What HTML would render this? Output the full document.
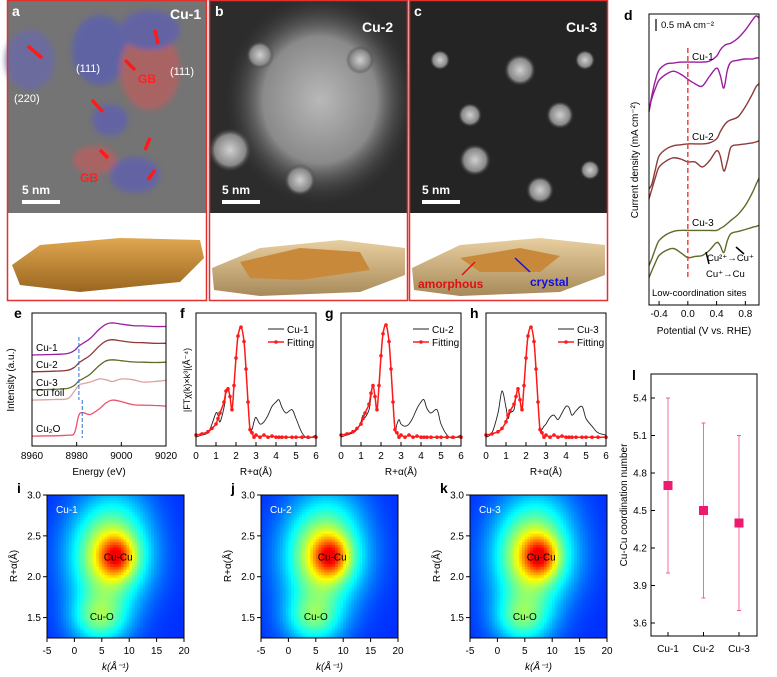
<!DOCTYPE html>
<html><head><meta charset="utf-8"><style>
html,body{margin:0;padding:0;background:#fff}
svg{display:block;font-family:"Liberation Sans",Arial,sans-serif}
</style></head><body>
<svg id="fig" width="777" height="677" viewBox="0 0 777 677" xmlns="http://www.w3.org/2000/svg">
<defs>
<radialGradient id="glowB" cx="50%" cy="50%" r="50%"><stop offset="0" stop-color="#b8b8b8"/><stop offset="0.6" stop-color="#8a8a8a"/><stop offset="1" stop-color="#3a3a3a" stop-opacity="0"/></radialGradient>
<radialGradient id="spot" cx="50%" cy="50%" r="50%"><stop offset="0" stop-color="#d0d0d0"/><stop offset="0.7" stop-color="#888"/><stop offset="1" stop-color="#333" stop-opacity="0"/></radialGradient>
<linearGradient id="slab" x1="0" y1="0" x2="0" y2="1"><stop offset="0" stop-color="#e0a650"/><stop offset="1" stop-color="#9a6620"/></linearGradient>
<linearGradient id="slab2" x1="0" y1="0" x2="0" y2="1"><stop offset="0" stop-color="#e8cfa0"/><stop offset="1" stop-color="#a88a5a"/></linearGradient>
<filter id="blur3"><feGaussianBlur stdDeviation="3"/></filter>
</defs>

<g>
<rect x="8" y="1" width="198" height="212" fill="#747474"/>
<g filter="url(#blur3)" opacity="0.8">
<ellipse cx="30" cy="60" rx="25" ry="30" fill="#6a6aa8"/><ellipse cx="100" cy="50" rx="28" ry="35" fill="#5a60b0"/>
<ellipse cx="150" cy="70" rx="30" ry="40" fill="#b86060"/><ellipse cx="110" cy="120" rx="18" ry="16" fill="#6060b0"/>
<ellipse cx="95" cy="160" rx="22" ry="14" fill="#b86060"/><ellipse cx="135" cy="175" rx="25" ry="18" fill="#6060b0"/>
<ellipse cx="150" cy="30" rx="30" ry="20" fill="#6060b0"/>
</g>
<g fill="#ff1a1a" stroke="#ff1a1a" stroke-width="3.5">
<line x1="42" y1="58" x2="28" y2="46"/><line x1="155" y1="30" x2="158" y2="44"/><line x1="125" y1="60" x2="135" y2="70"/>
<line x1="92" y1="100" x2="103" y2="112"/><line x1="100" y1="150" x2="108" y2="158"/><line x1="150" y1="138" x2="145" y2="150"/><line x1="155" y1="170" x2="148" y2="180"/>
</g>
<text x="12" y="16" fill="#fff" font-size="14" font-weight="bold">a</text>
<text x="170" y="19" fill="#fff" font-size="14" font-weight="bold">Cu-1</text>
<text x="76" y="72" fill="#fff" font-size="11">(111)</text><text x="170" y="75" fill="#fff" font-size="11">(111)</text>
<text x="14" y="102" fill="#fff" font-size="11">(220)</text>
<text x="138" y="83" fill="#ff2020" font-size="12" font-weight="bold">GB</text>
<text x="80" y="182" fill="#ff2020" font-size="12" font-weight="bold">GB</text>
<rect x="22" y="200" width="38" height="4" fill="#fff"/><text x="22" y="194" fill="#fff" font-size="12" font-weight="bold">5 nm</text>
<polygon points="12,265 40,245 120,238 200,240 204,258 180,282 80,292 20,285" fill="url(#slab)"/>
<rect x="7.5" y="0.5" width="199" height="300" fill="none" stroke="#e03030" stroke-width="1.5"/>
</g>
<g>
<rect x="210" y="1" width="197" height="212" fill="#2c2c2c"/>
<ellipse cx="320" cy="100" rx="95" ry="105" fill="url(#glowB)"/>
<circle cx="230" cy="150" r="22" fill="url(#spot)"/><circle cx="260" cy="55" r="14" fill="url(#spot)"/>
<circle cx="300" cy="180" r="16" fill="url(#spot)"/><circle cx="360" cy="60" r="14" fill="url(#spot)"/>
<text x="215" y="16" fill="#fff" font-size="14" font-weight="bold">b</text>
<text x="362" y="32" fill="#fff" font-size="14" font-weight="bold">Cu-2</text>
<rect x="222" y="200" width="38" height="4" fill="#fff"/><text x="222" y="194" fill="#fff" font-size="12" font-weight="bold">5 nm</text>
<polygon points="212,268 260,248 340,240 405,248 405,275 360,292 260,296 214,290" fill="url(#slab2)"/>
<polygon points="240,262 300,248 360,252 370,270 300,280 250,278" fill="#c88a3a"/>
<rect x="209.5" y="0.5" width="198" height="300" fill="none" stroke="#e03030" stroke-width="1.5"/>
</g>
<g>
<rect x="410" y="1" width="197" height="212" fill="#242424"/>
<circle cx="520" cy="70" r="16" fill="url(#spot)"/><circle cx="560" cy="115" r="14" fill="url(#spot)"/>
<circle cx="470" cy="115" r="12" fill="url(#spot)"/><circle cx="475" cy="160" r="16" fill="url(#spot)"/>
<circle cx="540" cy="190" r="14" fill="url(#spot)"/><circle cx="590" cy="170" r="10" fill="url(#spot)"/>
<circle cx="440" cy="60" r="10" fill="url(#spot)"/><circle cx="585" cy="60" r="10" fill="url(#spot)"/>
<text x="414" y="16" fill="#fff" font-size="14" font-weight="bold">c</text>
<text x="566" y="32" fill="#fff" font-size="14" font-weight="bold">Cu-3</text>
<rect x="422" y="200" width="38" height="4" fill="#fff"/><text x="422" y="194" fill="#fff" font-size="12" font-weight="bold">5 nm</text>
<polygon points="412,268 460,245 540,238 605,245 605,275 560,292 460,296 414,290" fill="url(#slab2)"/>
<polygon points="460,258 520,248 560,256 540,272 480,272" fill="#c88a3a"/>
<line x1="475" y1="262" x2="462" y2="275" stroke="#e01010" stroke-width="1.5"/>
<line x1="515" y1="258" x2="530" y2="272" stroke="#1010e0" stroke-width="1.5"/>
<text x="418" y="288" fill="#e01010" font-size="12" font-weight="bold">amorphous</text>
<text x="530" y="286" fill="#1010e0" font-size="12" font-weight="bold">crystal</text>
<rect x="409.5" y="0.5" width="198" height="300" fill="none" stroke="#e03030" stroke-width="1.5"/>
</g>
<g id="plots"></g>
</svg>
<script>
// ---- Panel d: CV data (V vs RHE, mA cm-2 relative) ----
const cvV = [-0.54,-0.5,-0.45,-0.4,-0.3,-0.2,-0.1,0,0.1,0.2,0.3,0.4,0.45,0.5,0.55,0.6,0.7,0.8,0.9,0.95,0.99];
const cu1Up = [-2.08,-1.38,-0.75,-0.33,-0.08,-0.04,0,0,0,0,0.04,0.25,0.5,0.67,0.75,0.79,1.0,1.33,1.75,1.92,1.83];
const cu1Down = [-2.0,-1.5,-1.08,-0.75,-0.5,-0.38,-0.5,-0.71,-0.9,-1.0,-0.6,-0.25,-0.54,-1.08,-0.33,0,0.08,0.13,0.13,0.17,0.17];
const cu2Up = [-1.88,-1.67,-1.04,-0.5,-0.21,-0.08,-0.04,0,0,0,0.04,0.21,0.5,0.75,0.92,1.0,1.13,1.54,2.08,2.38,2.5];
const cu2Down = [-2.29,-1.88,-1.38,-0.96,-0.71,-0.58,-0.63,-0.75,-0.75,-0.96,-0.71,-0.29,-0.5,-1.13,-0.71,-0.13,-0.04,0,0.04,0.08,0.13];
const cu3Up = [-1.46,-1.17,-0.75,-0.42,-0.17,-0.04,0,0,0,0,0,0,0.08,0.17,0.29,0.42,0.67,1.04,1.58,1.92,2.17];
const cu3Down = [-1.96,-1.67,-1.33,-1.04,-0.83,-0.75,-0.92,-1.13,-1.08,-1.04,-0.83,-0.5,-0.63,-0.92,-0.42,-0.13,-0.04,0.04,0.13,0.17,0.21];
const cvOffsets = [10.1,6.7,3.1];
const dTicks = [-0.4,0.0,0.4,0.8];
// ---- Panel e: XANES ----
const xE = [8960,8970,8976,8979,8981,8983,8986,8990,8993,8996,9000,9005,9010,9015,9020];
const xaCu1 = [0,0.02,0.05,0.15,0.3,0.4,0.55,0.85,1.02,1.07,1.03,0.98,0.97,0.95,0.95];
const xaCu2 = [0,0.02,0.05,0.15,0.3,0.4,0.55,0.85,1.02,1.07,1.03,0.98,0.97,0.95,0.95];
const xaCu3 = [0,0.02,0.05,0.15,0.3,0.38,0.52,0.8,0.96,1.0,0.97,0.93,0.92,0.91,0.92];
const xaFoil = [0,0.02,0.05,0.3,0.5,0.55,0.6,0.7,0.68,0.62,0.7,0.68,0.6,0.62,0.66];
const xaCu2O = [0,0.01,0.03,0.1,0.7,0.78,0.72,0.9,1.1,1.2,1.15,1.05,1.03,1.02,1.0];
const xaOffsets = [3.03,2.47,1.87,1.53,0.33];
const xaLabels = ["Cu-1","Cu-2","Cu-3","Cu foil","Cu₂O"];
const eTicks = [8960,8980,9000,9020];
// ---- Panels f,g,h: FT-EXAFS ----
const ftR = [0,0.3,0.6,0.8,1.0,1.1,1.2,1.4,1.5,1.6,1.7,1.8,1.9,2.0,2.1,2.25,2.4,2.5,2.6,2.7,2.8,2.9,3.0,3.2,3.4,3.6,3.8,4.0,4.15,4.3,4.5,4.8,5.0,5.3,5.6,6.0];
const fitF = [0.1,0.11,0.13,0.16,0.2,0.25,0.3,0.4,0.5,0.52,0.45,0.33,0.55,0.8,1.0,1.08,0.95,0.7,0.4,0.15,0.12,0.08,0.1,0.08,0.1,0.08,0.09,0.08,0.08,0.08,0.08,0.08,0.08,0.08,0.08,0.08];
const expF = [0.08,0.1,0.12,0.2,0.3,0.28,0.22,0.35,0.48,0.52,0.45,0.33,0.55,0.8,1.0,1.08,0.95,0.7,0.4,0.15,0.15,0.22,0.26,0.2,0.22,0.28,0.36,0.4,0.42,0.35,0.3,0.33,0.25,0.12,0.07,0.1];
const fitG = [0.1,0.11,0.13,0.16,0.2,0.25,0.3,0.38,0.48,0.55,0.45,0.33,0.55,0.82,1.02,1.1,0.95,0.7,0.4,0.15,0.12,0.08,0.1,0.08,0.1,0.08,0.09,0.08,0.08,0.08,0.08,0.08,0.08,0.08,0.08,0.08];
const expG = [0.08,0.1,0.12,0.15,0.22,0.28,0.26,0.33,0.45,0.55,0.45,0.33,0.55,0.82,1.02,1.1,0.95,0.7,0.4,0.15,0.2,0.24,0.2,0.18,0.2,0.26,0.34,0.4,0.42,0.34,0.3,0.33,0.2,0.1,0.07,0.1];
const fitH = [0.1,0.11,0.13,0.16,0.22,0.28,0.32,0.38,0.45,0.52,0.42,0.33,0.55,0.8,1.0,1.08,0.95,0.7,0.4,0.15,0.12,0.08,0.1,0.08,0.1,0.08,0.09,0.08,0.08,0.08,0.08,0.08,0.08,0.08,0.08,0.08];
const expH = [0.08,0.12,0.3,0.5,0.35,0.25,0.3,0.33,0.45,0.52,0.42,0.33,0.55,0.8,1.0,1.08,0.95,0.7,0.4,0.15,0.15,0.18,0.2,0.26,0.28,0.24,0.3,0.36,0.35,0.28,0.32,0.36,0.25,0.18,0.12,0.1];
const ftTicks = [0,1,2,3,4,5,6];
// ---- Panels i,j,k: WT-EXAFS peaks (k, R, amplitude, sigmaK, sigmaR) ----
const wtK = [7.8,7,4.5,5,10];
const wtR = [2.25,2.3,1.5,2.0,2.9];
const wtAmpI = [0.4,0.5,0.3,0.18,0.04];
const wtAmpJ = [0.41,0.5,0.28,0.18,0.04];
const wtAmpK = [0.41,0.51,0.28,0.18,0.04];
const wtSigK = [2.2,5,3.5,4.5,4];
const wtSigR = [0.17,0.4,0.2,0.7,0.2];
const wtXTicks = [-5,0,5,10,15,20];
const wtYTicks = [1.5,2.0,2.5,3.0];
// ---- Panel l: coordination number ----
const lCats = ["Cu-1","Cu-2","Cu-3"];
const lCN = [4.7,4.5,4.4];
const lErrLo = [4.0,3.8,3.7];
const lErrHi = [5.4,5.2,5.1];
const lTicks = [3.6,3.9,4.2,4.5,4.8,5.1,5.4];

const NS="http://www.w3.org/2000/svg";
const root=document.getElementById('plots');
function mk(tag,attrs,parent,txt){const e=document.createElementNS(NS,tag);for(const k in attrs)e.setAttribute(k,attrs[k]);if(txt!==undefined)e.textContent=txt;(parent||root).appendChild(e);return e;}
function lin(d0,d1,r0,r1){return v=>r0+(v-d0)*(r1-r0)/(d1-d0);}
function path(xs,ys,sx,sy){
 const P=xs.map((x,i)=>[sx(x),sy(ys[i])]);
 let d='M'+P[0][0].toFixed(1)+','+P[0][1].toFixed(1);
 for(let i=0;i<P.length-1;i++){const p0=P[Math.max(0,i-1)],p1=P[i],p2=P[i+1],p3=P[Math.min(P.length-1,i+2)];
  const c1=[p1[0]+(p2[0]-p0[0])/6,p1[1]+(p2[1]-p0[1])/6],c2=[p2[0]-(p3[0]-p1[0])/6,p2[1]-(p3[1]-p1[1])/6];
  d+='C'+c1[0].toFixed(1)+','+c1[1].toFixed(1)+' '+c2[0].toFixed(1)+','+c2[1].toFixed(1)+' '+p2[0].toFixed(1)+','+p2[1].toFixed(1);}
 return d;}

// Panel d
{const g=mk('g',{});
const sx=lin(-0.54,0.99,649,759), sy=lin(0,12.1,305,14);
const cols=['#9b1d9e','#8e3a3a','#5c6c2a'];
const ups=[cu1Up,cu2Up,cu3Up], downs=[cu1Down,cu2Down,cu3Down];
for(let c=0;c<3;c++){
 const a=mk('path',{d:path(cvV,ups[c].map(v=>v+cvOffsets[c]),sx,sy),fill:'none',stroke:cols[c],'stroke-width':1.4},g);
 
 const b=mk('path',{d:path(cvV,downs[c].map(v=>v+cvOffsets[c]),sx,sy),fill:'none',stroke:cols[c],'stroke-width':1.4},g);
 }
mk('line',{x1:sx(0),x2:sx(0),y1:48,y2:278,stroke:'#f04040','stroke-width':1.5,'stroke-dasharray':'5,3'},g);
mk('rect',{x:649,y:14,width:110,height:291,fill:'none',stroke:'#000','stroke-width':1},g);
dTicks.forEach(t=>{mk('line',{x1:sx(t),x2:sx(t),y1:305,y2:301,stroke:'#000'},g);const tl=mk('text',{x:sx(t),y:317,'font-size':10,'text-anchor':'middle'},g,t.toFixed(1));});
mk('text',{x:704,y:334,'font-size':10,'text-anchor':'middle'},g,'Potential (V vs. RHE)');
mk('text',{x:0,y:0,'font-size':10,'text-anchor':'middle',transform:'translate(638,160) rotate(-90)'},g,'Current density (mA cm⁻²)');
mk('text',{x:624,y:20,'font-size':14,'font-weight':'bold'},g,'d');
mk('line',{x1:656,x2:656,y1:19,y2:31,stroke:'#000','stroke-width':1.2},g);
mk('text',{x:661,y:28,'font-size':9.5},g,'0.5 mA cm⁻²');
mk('text',{x:692,y:60,'font-size':10},g,'Cu-1');mk('text',{x:692,y:140,'font-size':10},g,'Cu-2');mk('text',{x:692,y:226,'font-size':10},g,'Cu-3');
mk('text',{x:707,y:261,'font-size':9.5},g,'Cu²⁺→Cu⁺');mk('text',{x:706,y:277,'font-size':9.5},g,'Cu⁺→Cu');
mk('text',{x:652,y:296,'font-size':9.5},g,'Low-coordination sites');
mk('line',{x1:709,x2:706,y1:264,y2:252,stroke:'#000','stroke-width':1.5},g);
mk('line',{x1:744,x2:736,y1:254,y2:247,stroke:'#000','stroke-width':1.5},g);}

// Panel e
{const g=mk('g',{});
const sx=lin(8960,9020,32,166), sy=lin(0,4.43,446,313);
const sets=[xaCu1,xaCu2,xaCu3,xaFoil,xaCu2O], cols=['#9b1d9e','#8e3a3a','#5c6c2a','#e0a0a0','#f0506a'];
sets.forEach((s,i)=>{const p=mk('path',{d:path(xE,s.map(v=>v+xaOffsets[i]),sx,sy),fill:'none',stroke:cols[i],'stroke-width':1.3},g);
 mk('text',{x:36,y:sy(xaOffsets[i])-4,'font-size':10},g,xaLabels[i]);});
mk('line',{x1:sx(8981),x2:sx(8981),y1:337,y2:400,stroke:'#3070d0','stroke-dasharray':'4,2'},g);
mk('line',{x1:sx(8982.5),x2:sx(8982.5),y1:400,y2:438,stroke:'#3070d0','stroke-dasharray':'4,2'},g);
mk('rect',{x:32,y:313,width:134,height:133,fill:'none',stroke:'#000'},g);
eTicks.forEach(t=>{mk('line',{x1:sx(t),x2:sx(t),y1:446,y2:442,stroke:'#000'},g);mk('text',{x:sx(t),y:459,'font-size':10,'text-anchor':'middle'},g,t);});
mk('text',{x:99,y:475,'font-size':10,'text-anchor':'middle'},g,'Energy (eV)');
mk('text',{x:0,y:0,'font-size':10,'text-anchor':'middle',transform:'translate(14,380) rotate(-90)'},g,'Intensity (a.u.)');
mk('text',{x:14,y:318,'font-size':14,'font-weight':'bold'},g,'e');}

// Panels f,g,h
[[196,'f',fitF,expF,'Cu-1'],[341,'g',fitG,expG,'Cu-2'],[486,'h',fitH,expH,'Cu-3']].forEach(([x0,lab,fit,ex,name])=>{
 const g=mk('g',{});
 const sx=lin(0,6,x0,x0+120), sy=lin(0,1.209,446,313);
 const e=mk('path',{d:path(ftR,ex,sx,sy),fill:'none',stroke:'#222','stroke-width':0.9},g);
 const f=mk('path',{d:path(ftR,fit,sx,sy),fill:'none',stroke:'#ff1a1a','stroke-width':1.5},g);
 ftR.forEach((r,i)=>{const c=mk('circle',{cx:sx(r),cy:sy(fit[i]),r:1.8,fill:'#ff1a1a'},g);});
 mk('rect',{x:x0,y:313,width:120,height:133,fill:'none',stroke:'#000'},g);
 ftTicks.forEach(t=>{mk('line',{x1:sx(t),x2:sx(t),y1:446,y2:442,stroke:'#000'},g);mk('text',{x:sx(t),y:459,'font-size':10,'text-anchor':'middle'},g,t);});
 mk('text',{x:x0+60,y:475,'font-size':10,'text-anchor':'middle'},g,'R+α(Å)');
 mk('text',{x:x0-16,y:318,'font-size':14,'font-weight':'bold'},g,lab);
 mk('line',{x1:x0+72,x2:x0+88,y1:329,y2:329,stroke:'#222'},g);mk('text',{x:x0+91,y:333,'font-size':10},g,name);
 mk('line',{x1:x0+72,x2:x0+88,y1:342,y2:342,stroke:'#ff1a1a','stroke-width':1.5},g);mk('circle',{cx:x0+80,cy:342,r:1.8,fill:'#ff1a1a'},g);mk('text',{x:x0+91,y:346,'font-size':10},g,'Fitting');
});
mk('text',{x:0,y:0,'font-size':9,'text-anchor':'middle',transform:'translate(190,380) rotate(-90)'},root,'|FTχ(k)×k³|(Å⁻⁴)');

// Panels i,j,k
function jet(t){const c=v=>Math.round(255*Math.max(0,Math.min(1,v)));return `rgb(${c(1.5-Math.abs(4*t-3))},${c(1.5-Math.abs(4*t-2))},${c(1.5-Math.abs(4*t-1))})`;}
[[47,'i',wtAmpI,'Cu-1'],[261,'j',wtAmpJ,'Cu-2'],[470,'k',wtAmpK,'Cu-3']].forEach(([x0,lab,amp,name])=>{
 const g=mk('g',{});
 const W=137,H=143, sx=lin(-5,20,x0,x0+W), sy=lin(1.25,3.0,495+H,495);
 const nx=50,ny=52;
 for(let a=0;a<nx;a++)for(let b=0;b<ny;b++){
  const k=-5+25*(a+0.5)/nx, R=1.25+1.75*(b+0.5)/ny;let v=0;
  for(let p=0;p<wtK.length;p++)v+=amp[p]*Math.exp(-((k-wtK[p])**2)/(2*wtSigK[p]**2)-((R-wtR[p])**2)/(2*wtSigR[p]**2));
  mk('rect',{x:(x0+W*a/nx).toFixed(2),y:(495+H-H*(b+1)/ny).toFixed(2),width:(W/nx+0.4).toFixed(2),height:(H/ny+0.4).toFixed(2),fill:jet(0.17+0.72*Math.min(1,v))},g);
 }
 mk('rect',{x:x0,y:495,width:W,height:H,fill:'none',stroke:'#000'},g);
 wtXTicks.forEach(t=>{mk('line',{x1:sx(t),x2:sx(t),y1:638,y2:642,stroke:'#000'},g);mk('text',{x:sx(t),y:654,'font-size':10,'text-anchor':'middle'},g,t);});
 wtYTicks.forEach(t=>{mk('line',{x1:x0,x2:x0-4,y1:sy(t),y2:sy(t),stroke:'#000'},g);mk('text',{x:x0-6,y:sy(t)+3.5,'font-size':10,'text-anchor':'end'},g,t.toFixed(1));});
 mk('text',{x:x0+W/2,y:670,'font-size':10,'text-anchor':'middle','font-style':'italic'},g,'k(Å⁻¹)');
 mk('text',{x:0,y:0,'font-size':10,'text-anchor':'middle',transform:`translate(${x0-30},566) rotate(-90)`},g,'R+α(Å)');
 mk('text',{x:x0-30,y:493,'font-size':14,'font-weight':'bold'},g,lab);
 mk('text',{x:x0+9,y:513,'font-size':10,fill:'#fff'},g,name);
 mk('text',{x:sx(8),y:sy(2.25)+4,'font-size':10,'text-anchor':'middle'},g,'Cu-Cu');
 mk('text',{x:sx(5),y:sy(1.52)+4,'font-size':10,'text-anchor':'middle'},g,'Cu-O');
});

// Panel l
{const g=mk('g',{});
const sx=lin(0,2,668,739), sy=lin(3.6,5.4,623,398);
mk('rect',{x:651,y:374,width:106,height:262,fill:'none',stroke:'#000'},g);
lTicks.forEach(t=>{mk('line',{x1:651,x2:655,y1:sy(t),y2:sy(t),stroke:'#000'},g);mk('text',{x:647,y:sy(t)+3.5,'font-size':10,'text-anchor':'end'},g,t.toFixed(1));});
lCats.forEach((c,i)=>{const x=sx(i);
 mk('line',{x1:x,x2:x,y1:sy(lErrLo[i]),y2:sy(lErrHi[i]),stroke:'#f06090','stroke-width':0.9},g);
 mk('line',{x1:x-2,x2:x+2,y1:sy(lErrLo[i]),y2:sy(lErrLo[i]),stroke:'#f06090'},g);
 mk('line',{x1:x-2,x2:x+2,y1:sy(lErrHi[i]),y2:sy(lErrHi[i]),stroke:'#f06090'},g);
 const m=mk('rect',{x:x-4.5,y:sy(lCN[i])-4.5,width:9,height:9,fill:'#ee1a6e'},g);
 mk('line',{x1:x,x2:x,y1:636,y2:632,stroke:'#000'},g);
 mk('text',{x:x,y:652,'font-size':10,'text-anchor':'middle'},g,c);});
mk('text',{x:0,y:0,'font-size':10,'text-anchor':'middle',transform:'translate(627,505) rotate(-90)'},g,'Cu-Cu coordination number');
mk('text',{x:632,y:380,'font-size':14,'font-weight':'bold'},g,'l');}
</script>
</body></html>
